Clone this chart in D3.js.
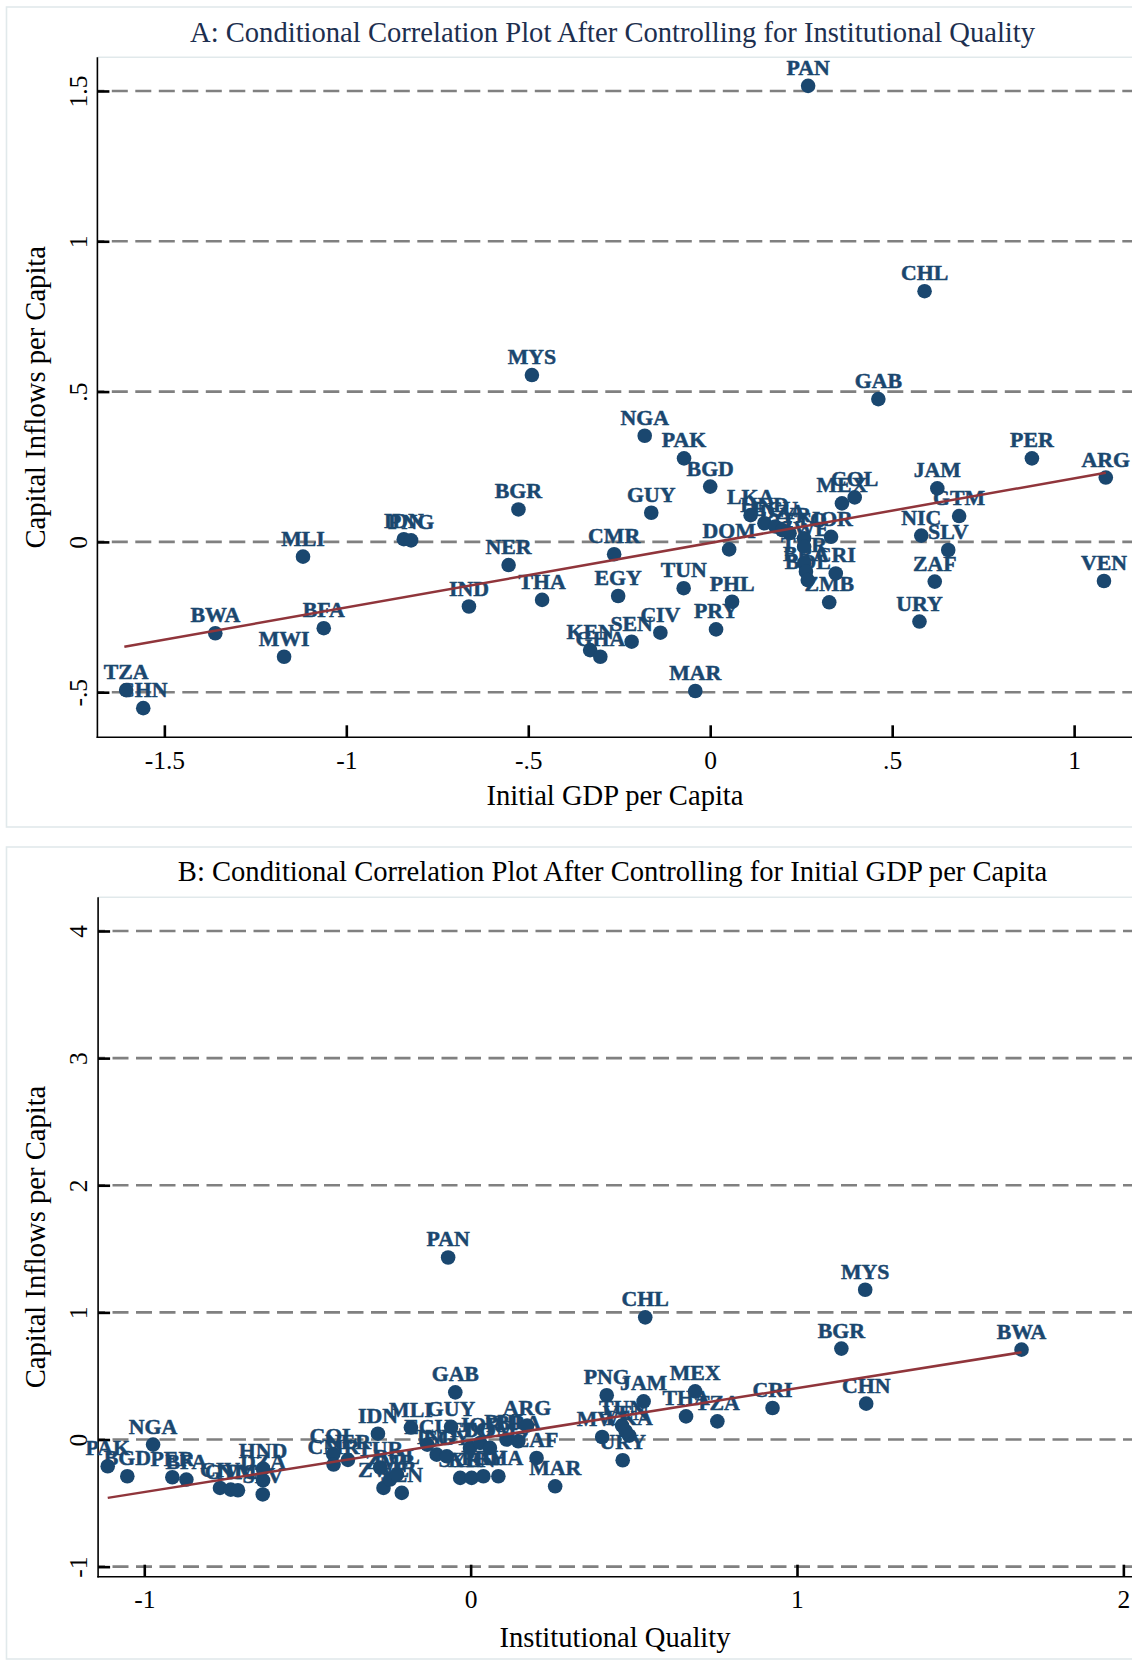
<!DOCTYPE html>
<html>
<head>
<meta charset="utf-8">
<script src="https://cdn.jsdelivr.net/npm/d3@7"></script>
<style>
  html, body { margin: 0; padding: 0; background: #ffffff; }
  svg { display: block; }
</style>
</head>
<body>
<script>
// ---------------- DATA ----------------
// Panel A: Initial GDP per capita (x) vs capital inflows per capita (y)
const codesA = ["MYS","PAN","CHL","GAB","NGA","PAK","BGD","GUY","CMR","DOM","EGY","TUN","PHL","PRY","CIV","SEN","KEN","GHA","MAR","JAM","GTM","NIC","SLV","ZAF","URY","PER","ARG","VEN","MEX","COL","LKA","HND","ECU","DZA","SYR","TTO","ZWE","JOR","TUR","BRA","BOL","CRI","ZMB","TZA","CHN","BWA","MWI","BFA","MLI","IDN","PNG","BGR","NER","IND","THA"];
const gdpA = [-0.490,0.269,0.589,0.462,-0.180,-0.072,0.000,-0.162,-0.264,0.052,-0.253,-0.073,0.060,0.016,-0.137,-0.216,-0.330,-0.302,-0.041,0.624,0.684,0.580,0.654,0.617,0.575,0.884,1.087,1.082,0.362,0.397,0.111,0.149,0.179,0.198,0.218,0.258,0.258,0.332,0.258,0.263,0.268,0.345,0.327,-1.605,-1.558,-1.360,-1.171,-1.062,-1.119,-0.842,-0.822,-0.527,-0.554,-0.663,-0.462];
const inflowA = [0.555,1.517,0.834,0.475,0.353,0.278,0.184,0.097,-0.041,-0.025,-0.180,-0.154,-0.199,-0.291,-0.302,-0.332,-0.360,-0.382,-0.496,0.178,0.086,0.021,-0.027,-0.132,-0.265,0.278,0.214,-0.130,0.128,0.148,0.089,0.062,0.051,0.039,0.029,0.012,-0.016,0.017,-0.071,-0.099,-0.127,-0.105,-0.201,-0.493,-0.553,-0.304,-0.382,-0.287,-0.049,0.009,0.005,0.108,-0.077,-0.215,-0.193];
const fitAx = [-1.610, 1.087];
const fitAy = [-0.349, 0.230];
const xTicksA = [-1.5, -1, -0.5, 0, 0.5, 1];
const xTickLabelsA = ["-1.5", "-1", "-.5", "0", ".5", "1"];
const yTicksA = [-0.5, 0, 0.5, 1, 1.5];
const yTickLabelsA = ["-.5", "0", ".5", "1", "1.5"];

// Panel B: Institutional quality (x) vs capital inflows per capita (y)
const codesB = ["PAK","BGD","NGA","PER","BFA","CIV","GTM","NIC","HND","DZA","SLV","COL","CMR","NER","IDN","TUR","ZWE","ZMB","BOL","SEN","MLI","ECU","IND","EGY","GUY","GAB","PAN","SYR","KEN","PRY","GHA","TTO","JOR","DOM","PHL","BRA","ARG","ZAF","MAR","MWI","PNG","TUN","LKA","VEN","URY","JAM","CHL","THA","MEX","TZA","CRI","BGR","MYS","CHN","BWA"];
const instB = [-1.112,-1.052,-0.973,-0.914,-0.871,-0.768,-0.735,-0.713,-0.636,-0.636,-0.637,-0.421,-0.420,-0.376,-0.284,-0.277,-0.267,-0.247,-0.226,-0.211,-0.183,-0.133,-0.104,-0.073,-0.060,-0.047,-0.069,-0.032,0.003,0.039,0.085,-0.002,0.029,0.059,0.110,0.146,0.173,0.202,0.259,0.403,0.417,0.464,0.486,0.475,0.466,0.530,0.535,0.660,0.688,0.756,0.925,1.136,1.209,1.212,1.688];
const inflowB = [-0.210,-0.289,-0.040,-0.297,-0.315,-0.381,-0.394,-0.399,-0.229,-0.322,-0.432,-0.115,-0.197,-0.160,0.046,-0.220,-0.381,-0.315,-0.276,-0.420,0.094,-0.040,-0.119,-0.132,0.100,0.371,1.432,-0.302,-0.302,-0.289,-0.289,-0.066,-0.027,-0.066,0.000,-0.014,0.109,-0.145,-0.368,0.020,0.348,0.110,0.030,0.065,-0.163,0.300,0.961,0.182,0.379,0.143,0.248,0.715,1.178,0.282,0.707];
const fitBx = [-1.112, 1.688];
const fitBy = [-0.459, 0.686];
const xTicksB = [-1, 0, 1, 2];
const xTickLabelsB = ["-1", "0", "1", "2"];
const yTicksB = [-1, 0, 1, 2, 3, 4];
const yTickLabelsB = ["-1", "0", "1", "2", "3", "4"];

const titleA = "A: Conditional Correlation Plot After Controlling for Institutional Quality";
const titleB = "B: Conditional Correlation Plot After Controlling for Initial GDP per Capita";
const xTitleA = "Initial GDP per Capita";
const xTitleB = "Institutional Quality";
const yTitle = "Capital Inflows per Capita";

// ---------------- DRAWING ----------------
const W = 1132, H = 1662;
const FONT = "'Liberation Serif', 'Times New Roman', Times, serif";
const NAVY = "#1a476f";
const FIT = "#90353b";
const GRID = "#808080";
const FRAME = "#e1e9eb";

const svg = d3.select("body").append("svg")
  .attr("width", W).attr("height", H)
  .attr("viewBox", `0 0 ${W} ${H}`)
  .style("font-family", FONT);

svg.append("rect").attr("width", W).attr("height", H).attr("fill", "#ffffff");

function drawPanel(p) {
  const g = svg.append("g");

  // outer frame
  g.append("rect")
    .attr("x", 6.5).attr("y", p.boxTop)
    .attr("width", 1300).attr("height", p.boxBottom - p.boxTop)
    .attr("fill", "none").attr("stroke", FRAME).attr("stroke-width", 1.6);

  const x = d3.scaleLinear().domain(p.xDomain).range([p.left, p.right]);
  const y = d3.scaleLinear().domain(p.yDomain).range([p.bottom, p.top]);

  // plot region top outline
  g.append("line")
    .attr("x1", p.left).attr("x2", p.right)
    .attr("y1", p.top).attr("y2", p.top)
    .attr("stroke", FRAME).attr("stroke-width", 1.6);

  // title
  g.append("text")
    .attr("x", 612.5).attr("y", p.titleY)
    .attr("text-anchor", "middle")
    .attr("font-size", 28.6)
    .attr("fill", p.titleColor)
    .text(p.title);

  // gridlines
  g.append("g").selectAll("line").data(p.yTicks).join("line")
    .attr("x1", p.left).attr("x2", p.right)
    .attr("y1", d => y(d)).attr("y2", d => y(d))
    .attr("stroke", GRID).attr("stroke-width", 2.6)
    .attr("stroke-dasharray", "16,7.5")
    .attr("stroke-dashoffset", 9.1);

  // x axis
  const xAxis = d3.axisBottom(x)
    .tickValues(p.xTicks)
    .tickFormat((d, i) => p.xTickLabels[i])
    .tickSizeInner(-12).tickSizeOuter(0);
  const gx = g.append("g").attr("transform", `translate(0,${p.bottom})`).call(xAxis);
  gx.select(".domain").remove();
  gx.selectAll(".tick line").attr("stroke", "#000").attr("stroke-width", 2.6);
  gx.selectAll(".tick text")
    .attr("y", 31.7).attr("dy", null)
    .attr("font-size", 25.5).attr("font-family", FONT).attr("fill", "#000");

  // y axis
  const yAxis = d3.axisLeft(y)
    .tickValues(p.yTicks)
    .tickFormat((d, i) => p.yTickLabels[i])
    .tickSizeInner(-12).tickSizeOuter(0);
  const gy = g.append("g").attr("transform", `translate(${p.left},0)`).call(yAxis);
  gy.select(".domain").remove();
  gy.selectAll(".tick line").attr("stroke", "#000").attr("stroke-width", 2.6);
  gy.selectAll(".tick text")
    .attr("x", null).attr("dy", null)
    .attr("text-anchor", "middle")
    .attr("transform", `translate(-10.9,0) rotate(-90)`)
    .attr("font-size", 25.5).attr("font-family", FONT).attr("fill", "#000");

  // axis lines
  g.append("line").attr("x1", p.left).attr("x2", p.left)
    .attr("y1", p.top).attr("y2", p.bottom + 0.8)
    .attr("stroke", "#000").attr("stroke-width", 1.6);
  g.append("line").attr("x1", p.left - 0.8).attr("x2", p.right)
    .attr("y1", p.bottom).attr("y2", p.bottom)
    .attr("stroke", "#000").attr("stroke-width", 1.6);

  // axis titles
  g.append("text")
    .attr("x", 615).attr("y", p.xTitleY)
    .attr("text-anchor", "middle").attr("font-size", 28.6).attr("fill", "#000")
    .text(p.xTitle);
  g.append("text")
    .attr("transform", `translate(44.5,${(p.top + p.bottom) / 2}) rotate(-90)`)
    .attr("text-anchor", "middle").attr("font-size", 28.6).attr("fill", "#000")
    .text(yTitle);

  // points
  const idx = d3.range(p.codes.length);
  g.append("g").selectAll("circle").data(idx).join("circle")
    .attr("cx", i => x(p.xs[i])).attr("cy", i => y(p.ys[i]))
    .attr("r", 7.3).attr("fill", NAVY);

  // labels
  g.append("g").selectAll("text").data(idx).join("text")
    .attr("x", i => x(p.xs[i])).attr("y", i => y(p.ys[i]) - 11)
    .attr("text-anchor", "middle")
    .attr("font-size", 21.8).attr("font-weight", "bold")
    .attr("fill", NAVY)
    .attr("stroke", NAVY).attr("stroke-width", 0.5)
    .text(i => p.codes[i]);

  // fitted line
  g.append("line")
    .attr("x1", x(p.fitX[0])).attr("y1", y(p.fitY[0]))
    .attr("x2", x(p.fitX[1])).attr("y2", y(p.fitY[1]))
    .attr("stroke", FIT).attr("stroke-width", 2.5);
}

drawPanel({
  codes: codesA, xs: gdpA, ys: inflowA, fitX: fitAx, fitY: fitAy,
  xTicks: xTicksA, xTickLabels: xTickLabelsA, yTicks: yTicksA, yTickLabels: yTickLabelsA,
  xDomain: [-1.684, 1.181], yDomain: [-0.65, 1.612],
  left: 97.4, right: 1140, top: 57.3, bottom: 737.3,
  boxTop: 7, boxBottom: 827,
  title: titleA, titleColor: "#1d2f4f", titleY: 41.5,
  xTitle: xTitleA, xTitleY: 805
});

drawPanel({
  codes: codesB, xs: instB, ys: inflowB, fitX: fitBx, fitY: fitBy,
  xTicks: xTicksB, xTickLabels: xTickLabelsB, yTicks: yTicksB, yTickLabels: yTickLabelsB,
  xDomain: [-1.1415, 2.051], yDomain: [-1.079, 4.265],
  left: 98.1, right: 1140, top: 897.3, bottom: 1576.7,
  boxTop: 847, boxBottom: 1659,
  title: titleB, titleColor: "#000000", titleY: 880.5,
  xTitle: xTitleB, xTitleY: 1646.5
});
</script>
</body>
</html>
